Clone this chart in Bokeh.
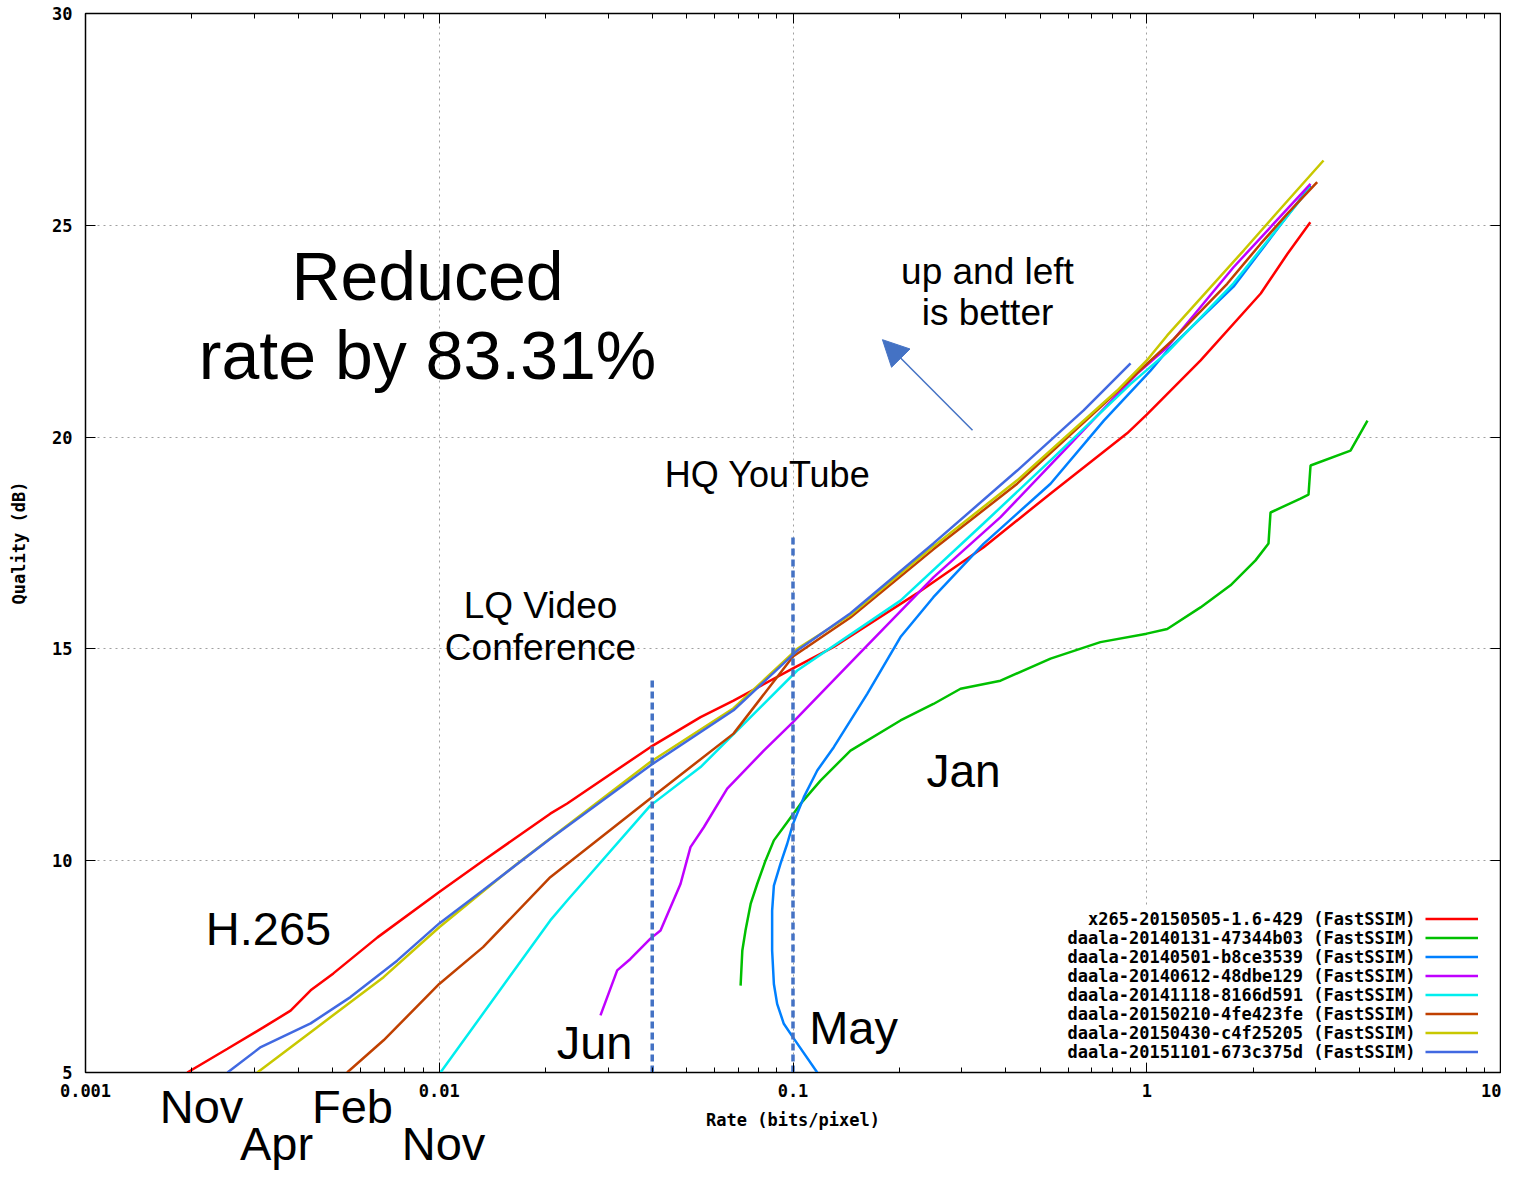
from bokeh.plotting import figure
from bokeh.models import (Range1d, FixedTicker, CustomJSTickFormatter, LogAxis, LinearAxis,
                          Label, Arrow, NormalHead, Legend, LegendItem, BoxAnnotation)
from bokeh.embed import file_html
from bokeh.resources import INLINE

# ---------------- data (rate in bits/pixel, quality in dB) ----------------
series_names = [
    "x265-20150505-1.6-429 (FastSSIM)",
    "daala-20140131-47344b03 (FastSSIM)",
    "daala-20140501-b8ce3539 (FastSSIM)",
    "daala-20140612-48dbe129 (FastSSIM)",
    "daala-20141118-8166d591 (FastSSIM)",
    "daala-20150210-4fe423fe (FastSSIM)",
    "daala-20150430-c4f25205 (FastSSIM)",
    "daala-20151101-673c375d (FastSSIM)",
]
series_colors = ["#ff0000", "#00c000", "#0080ff", "#c000ff", "#00eeee", "#c04000", "#c8c800", "#4169e1"]

x265_x = [0.00194, 0.00252, 0.00319, 0.0038, 0.00433, 0.00502, 0.00669, 0.0100, 0.0133, 0.0206,
          0.0230, 0.0395, 0.0548, 0.0679, 0.100, 0.130, 0.224, 0.346, 0.535, 0.880, 1.00, 1.42,
          2.10, 2.50, 2.90]
x265_y = [5.0, 5.56, 6.07, 6.46, 6.94, 7.34, 8.19, 9.26, 10.0, 11.11,
          11.35, 12.68, 13.39, 13.78, 14.54, 15.04, 16.31, 17.40, 18.67, 20.09, 20.53, 21.81,
          23.39, 24.33, 25.07]

d0131_x = [0.0711, 0.0719, 0.0734, 0.0759, 0.0792, 0.0836, 0.0883, 0.0963, 0.105, 0.1196,
           0.1454, 0.2013, 0.2494, 0.2976, 0.3861, 0.5346, 0.7396, 1.0, 1.1425, 1.419,
           1.725, 2.03, 2.209, 2.238, 2.72, 2.866, 2.904, 3.767, 4.207]
d0131_y = [7.05, 7.88, 8.35, 8.98, 9.45, 10.0, 10.48, 10.91, 11.34, 11.89,
           12.6, 13.31, 13.7, 14.06, 14.25, 14.77, 15.16, 15.36, 15.47, 15.98,
           16.5, 17.09, 17.49, 18.22, 18.55, 18.64, 19.33, 19.68, 20.39]

d0501_x = [0.1171, 0.100, 0.0942, 0.0902, 0.0883, 0.0873, 0.0873, 0.0883, 0.0922, 0.0963,
           0.100, 0.1073, 0.1171, 0.1304, 0.1621, 0.2013, 0.2494, 0.3455, 0.5346, 0.7563,
           1.025, 1.1425, 1.759, 2.904]
d0501_y = [5.0, 5.83, 6.15, 6.62, 7.09, 7.88, 8.82, 9.41, 9.93, 10.40,
           10.87, 11.50, 12.13, 12.68, 13.94, 15.28, 16.22, 17.48, 18.90, 20.39,
           21.57, 22.04, 23.55, 25.94]

d0612_x = [0.02856, 0.03184, 0.0347, 0.03953, 0.04222, 0.04505, 0.04808, 0.05131, 0.05596, 0.06516,
           0.08268, 0.100, 0.1552, 0.2494, 0.3861, 0.5957, 0.9397, 1.1425, 1.759, 2.904]
d0612_y = [6.35, 7.41, 7.68, 8.16, 8.35, 8.90, 9.45, 10.32, 10.79, 11.70,
           12.60, 13.27, 14.92, 16.69, 18.11, 19.76, 21.50, 22.12, 24.01, 25.98]

d1118_x = [0.01008, 0.0206, 0.023, 0.0395, 0.0548, 0.1028, 0.2013, 0.3455, 0.5346, 0.8995,
           1.1425, 1.759, 2.904]
d1118_y = [5.0, 8.59, 9.06, 11.30, 12.21, 14.49, 16.14, 17.96, 19.45, 21.25,
           22.0, 23.63, 25.90]

d0210_x = [0.00549, 0.00696, 0.0100, 0.0133, 0.0206, 0.0395, 0.0679, 0.100, 0.1454, 0.2494,
           0.4303, 0.740, 1.193, 1.688, 2.097, 2.495, 3.032]
d0210_y = [5.0, 5.76, 7.09, 7.96, 9.61, 11.47, 13.00, 14.82, 15.74, 17.35,
           18.90, 20.71, 22.32, 23.62, 24.56, 25.27, 26.02]

d0430_x = [0.00306, 0.00452, 0.00696, 0.0100, 0.0166, 0.0395, 0.0679, 0.1028, 0.1454, 0.2494,
           0.4303, 0.825, 1.00, 1.1425, 1.881, 2.388, 3.16]
d0430_y = [5.0, 6.07, 7.25, 8.43, 9.93, 12.33, 13.60, 15.00, 15.80, 17.42,
           18.98, 21.10, 21.81, 22.40, 24.41, 25.39, 26.53]

d1101_x = [0.00252, 0.00313, 0.00433, 0.00561, 0.0076, 0.0100, 0.0133, 0.0206, 0.0395, 0.0679,
           0.1028, 0.1454, 0.2494, 0.4303, 0.663, 0.90]
d1101_y = [5.0, 5.60, 6.16, 6.78, 7.64, 8.52, 9.30, 10.52, 12.25, 13.55,
           14.96, 15.84, 17.49, 19.21, 20.63, 21.74]

all_x = [x265_x, d0131_x, d0501_x, d0612_x, d1118_x, d0210_x, d0430_x, d1101_x]
all_y = [x265_y, d0131_y, d0501_y, d0612_y, d1118_y, d0210_y, d0430_y, d1101_y]

# use-case markers (rate, top quality)
marker_rate = [0.04, 0.1]
marker_top = [14.35, 17.68]
marker_bottom = [5.0, 5.0]

# month labels under the axis (rate where each label is centred)
month_row1_rate = [0.002128, 0.005685]
month_row1 = ["Nov", "Feb"]
month_row2_rate = [0.003467, 0.01028]
month_row2 = ["Apr", "Nov"]

x_major = [0.001, 0.01, 0.1, 1, 10]
x_minor = [round(m * 10.0 ** e, 6) for e in range(-3, 1) for m in range(2, 10)]
y_major = [5, 10, 15, 20, 25, 30]

# ---------------- figure ----------------
p = figure(width=1501, height=1172, x_axis_type="log",
           x_range=Range1d(0.001, 10), y_range=Range1d(5, 30),
           output_backend="svg", toolbar_location=None,
           min_border_left=85, min_border_right=1, min_border_top=13, min_border_bottom=100)
p.outline_line_color = "black"
p.outline_line_width = 1.5
p.background_fill_color = "white"
p.border_fill_color = "white"

mono = "DejaVu Sans Mono"
sans = "Liberation Sans"
PX_PER_DB = 1059.0 / 25.0

xticker = FixedTicker(ticks=x_major, minor_ticks=x_minor)
yticker = FixedTicker(ticks=y_major, minor_ticks=[])
blank = CustomJSTickFormatter(code="return '';")


def style_axis(ax):
    ax.major_tick_in = 10
    ax.major_tick_out = 0
    ax.minor_tick_in = 5
    ax.minor_tick_out = 0
    ax.axis_line_color = "black"
    ax.major_tick_line_color = "black"
    ax.minor_tick_line_color = "black"
    ax.major_label_text_font = mono
    ax.major_label_text_font_style = "bold"
    ax.major_label_text_font_size = "17px"
    ax.major_label_text_color = "black"
    ax.axis_label_text_font = mono
    ax.axis_label_text_font_style = "bold"
    ax.axis_label_text_font_size = "17px"
    ax.axis_label_text_color = "black"


xa = p.xaxis[0]
xa.ticker = xticker
xa.formatter = CustomJSTickFormatter(code="return tick.toString();")
xa.axis_label = "Rate (bits/pixel)"
style_axis(xa)
xa.major_label_standoff = 11
xa.axis_label_standoff = 10

ya = p.yaxis[0]
ya.ticker = yticker
ya.axis_label = "Quality (dB)"
style_axis(ya)
ya.major_label_standoff = 13
ya.axis_label_standoff = 20

top_ax = LogAxis(ticker=xticker, formatter=blank)
style_axis(top_ax)
top_ax.major_label_standoff = 0
p.add_layout(top_ax, "above")

right_ax = LinearAxis(ticker=yticker, formatter=blank)
style_axis(right_ax)
right_ax.major_label_standoff = 0
p.add_layout(right_ax, "right")


# month labels: drawn as tick labels of bare extra axes (they sit outside the frame)
def month_axis(rates, names, standoff):
    ax = LogAxis(ticker=FixedTicker(ticks=rates, minor_ticks=[]),
                 formatter=CustomJSTickFormatter(args=dict(names=names), code="return names[index];"))
    ax.axis_line_color = None
    ax.major_tick_line_color = None
    ax.minor_tick_line_color = None
    ax.major_tick_in = 0
    ax.major_tick_out = 0
    ax.minor_tick_in = 0
    ax.minor_tick_out = 0
    ax.major_label_text_font = sans
    ax.major_label_text_font_size = "47px"
    ax.major_label_text_color = "black"
    ax.major_label_standoff = standoff
    p.add_layout(ax, "below")


month_axis(month_row1_rate, month_row1, -53)
month_axis(month_row2_rate, month_row2, -19)

p.xgrid.ticker = xticker
p.ygrid.ticker = yticker
for g in (p.xgrid[0], p.ygrid[0]):
    g.grid_line_color = "#a0a0a0"
    g.grid_line_dash = "2 4"
    g.grid_line_width = 1

# ---------------- curves ----------------
renderers = []
for xs, ys, col in zip(all_x, all_y, series_colors):
    r = p.line(xs, ys, line_color=col, line_width=2.5)
    renderers.append(r)

# dashed use-case markers
p.segment(x0=marker_rate, y0=marker_bottom, x1=marker_rate, y1=marker_top,
          line_color="#4472c4", line_width=3.5, line_dash="7 4")

# ---------------- legend (gnuplot style: text, then sample) ----------------
p.add_layout(BoxAnnotation(left=0.552, right=9.07, bottom=5.24, top=8.94,
                           fill_color="white", fill_alpha=1.0, line_alpha=0))

leg = Legend(items=[LegendItem(label=" ", renderers=[r]) for r in renderers],
             location=(1340, 11), glyph_width=53, glyph_height=19, label_height=19,
             label_width=0, label_standoff=0, spacing=0, padding=0, margin=0,
             border_line_alpha=0, background_fill_alpha=0, label_text_font_size="8px")
p.add_layout(leg)

for i, name in enumerate(series_names):
    p.add_layout(Label(x=5.751, y=8.624 - 0.4485 * i, text=name, text_align="right",
                       text_baseline="middle", text_font=mono, text_font_style="bold",
                       text_font_size="17px", text_color="black"))

# ---------------- annotations ----------------
def note(x, y, text, size):
    # y is the wanted baseline; shift to compensate the renderer's baseline offset
    y_adj = y + 0.39 * size / PX_PER_DB
    p.add_layout(Label(x=x, y=y_adj, text=text, text_align="center", text_baseline="alphabetic",
                       text_font=sans, text_font_size="%dpx" % size, text_color="black"))

note(0.009265, 23.18, "Reduced", 68)
note(0.009265, 21.31, "rate by 83.31%", 68)
note(0.3546, 23.58, "up and left", 37)
note(0.3546, 22.59, "is better", 37)
note(0.08475, 18.79, "HQ YouTube", 36)
note(0.01933, 15.69, "LQ Video", 37)
note(0.01933, 14.70, "Conference", 37)
note(0.3034, 11.70, "Jan", 46)
note(0.00329, 7.97, "H.265", 47)
note(0.02748, 5.28, "Jun", 47)
note(0.1483, 5.64, "May", 47)

p.add_layout(Arrow(end=NormalHead(size=26, fill_color="#4472c4", line_color="#4472c4"),
                   x_start=0.3217, y_start=20.16, x_end=0.179, y_end=22.30,
                   line_color="#4472c4", line_width=1.5))

open("out.html", "w").write(file_html(p, INLINE))
